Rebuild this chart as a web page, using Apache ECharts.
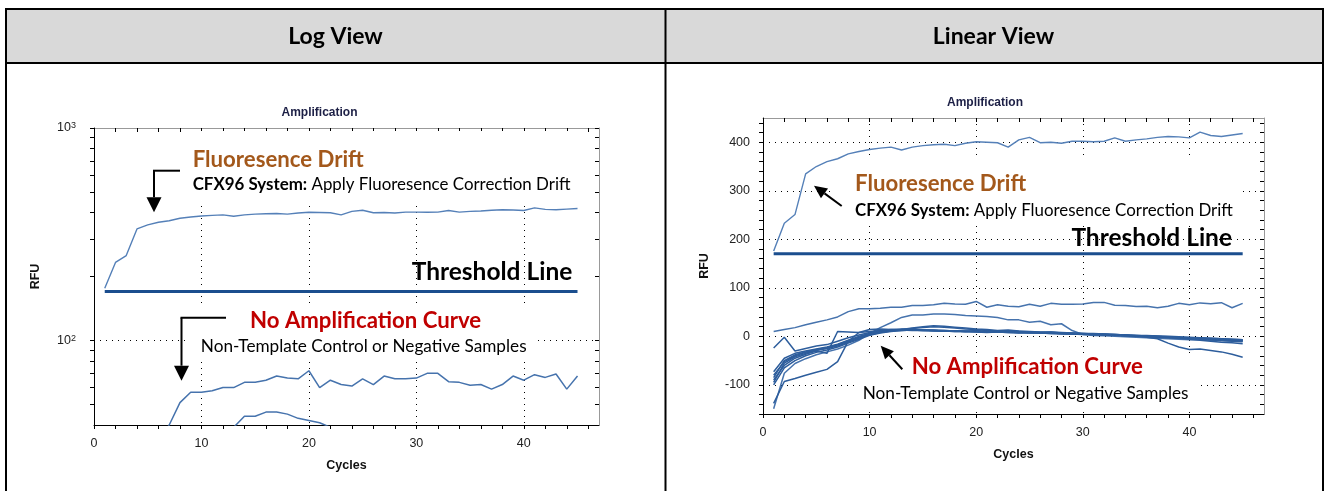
<!DOCTYPE html>
<html>
<head>
<meta charset="UTF-8">
<title>Amplification - Log View / Linear View</title>
<style>
body{margin:0;background:#fff;}
#main{width:1326px;height:491px;}
</style>
</head>
<body>
<div id="main"></div>
<script src="https://cdn.jsdelivr.net/npm/echarts@6/dist/echarts.min.js"></script>
<script>
// cycles 1..45
var cycles = [1,2,3,4,5,6,7,8,9,10,11,12,13,14,15,16,17,18,19,20,21,22,23,24,25,26,27,28,29,30,31,32,33,34,35,36,37,38,39,40,41,42,43,44,45];

// drifting sample (RFU)
var drift = [176,233,251,335,350,360,366,376,381,385,388,390,384,390,393,395,396,393,398,401,400,399,390,405,410,399,400,398,402,402,401,402,409,402,405,407,410,412,411,409,421,414,412,415,418];

// non-template control / negative samples (RFU)
var ntc1 = [10,14,18,24,29,34,40,51,57,57,58,60,60,63.5,63.5,65,68,66.5,66,72,60,65,62,61,66,62,68,66,66,66.5,70,70,64,63.5,61.5,62,59,62,68,65,69,67,69.5,59,68];
var ntc2 = [-149,-76,-56,-46,-38,-32,-26,-18,-8,6,18,28,39,44,44,46,46,45,43,42,41,39,34,34,29,31,24,26,12,4,2,1,0,-1,-2,-3,-4,-5,-6,-7,-7,-8,-8,-9,-10];
var ntc3 = [-24,-2,-30,-25,-20,-17,-10,-3,3,8,12,14,15,14,13,12,12,11,10,12,10,9,11,10,9,8,9,7,6,5,5,4,3,2,1,0,-1,-2,-3,-4,-5,-6,-7,-8,-8];
var ntc4 = [-73,-45,-35,-30,-26,-22,-16,-8,0,6,10,12,13,14,13,12,11,10,10,9,8,9,8,7,8,7,6,5,5,4,4,3,2,1,0,-1,-2,-3,-4,-4,-5,-6,-7,-8,-9];
var ntc5 = [-80,-52,-40,-33,-28,-24,-18,-10,-2,4,9,11,12,13,12,12,11,11,10,10,9,10,9,8,8,7,7,6,5,5,4,3,3,2,1,0,-1,-2,-3,-4,-5,-6,-6,-7,-8];
var ntc6 = [-90,-60,-45,-37,-30,-35,10,9,8,10,12,13,14,16,18,20,19,17,15,14,12,11,10,10,9,8,8,7,7,6,5,5,4,3,2,1,0,-1,-2,-3,-3,-4,-5,-6,-7];
var ntc7 = [-95,-55,-42,-35,-29,-25,-20,-12,-4,3,8,11,14,17,20,22,21,19,17,15,14,12,13,11,10,9,9,8,7,6,6,5,4,3,2,1,0,-2,-4,-6,-8,-10,-12,-13,-15];
var ntc8 = [-138,-93,-87,-80,-74,-68,-52,-10,8,14,15,14,13,12,12,11,11,10,10,10,9,9,8,8,7,7,6,6,5,5,4,4,3,2,1,-2,-5,-14,-22,-27,-26,-29,-32,-37,-43];
var ntc9 = [-85,-50,-38,-32,-27,-23,-17,-9,-1,5,9,12,13,13,12,12,11,11,10,10,10,9,9,9,8,8,7,7,6,6,5,4,4,3,2,2,1,0,-1,-2,-3,-4,-5,-6,-7];
var ntc10 = [-100,-65,-50,-40,-33,-28,-22,-14,-6,2,7,10,12,13,13,13,12,11,11,10,10,9,9,8,8,7,7,6,5,5,4,4,3,2,1,0,-1,-2,-3,-4,-6,-7,-9,-10,-11];

var threshold = 170;

// axis ticks / labels
var xTickVals = [0,2,4,6,8,10,12,14,16,18,20,22,24,26,28,30,32,34,36,38,40,42,44,46];
var xLabelVals = [0,10,20,30,40];
var xGridVals = [10,20,30,40];
var logTickVals = [50,60,70,80,90,100,200,300,400,500,600,700,800,900,1000];
var logLabelVals = [100,1000];
var logGridVals = [100];
var linTickVals = [-160,-140,-120,-100,-80,-60,-40,-20,0,20,40,60,80,100,120,140,160,180,200,220,240,260,280,300,320,340,360,380,400,420,440];
var linLabelVals = [-100,0,100,200,300,400];
var linGridVals = [-100,0,100,200,300,400];

var lowCurves = [ntc1,ntc2,ntc3,ntc4,ntc5,ntc6,ntc7,ntc8,ntc9,ntc10];

var lineColor = '#2d5d9c';
var axisFont = 'Liberation Sans';
var noteFont = 'Lato';

function toPairs(vals, logScale){
    return cycles.map(function(c, i){
        var v = vals[i];
        return [c, (logScale && v <= 0) ? '-' : v];
    });
}

function xAxes(gi){
    var dotted = {color:'#000', width:1, type:[1,5]};
    return [
        {gridIndex:gi, type:'value', position:'bottom', min:0, max:47,
         axisLine:{show:true, onZero:false, lineStyle:{color:'#000'}},
         axisTick:{customValues:xTickVals, length:4, lineStyle:{color:'#000'}},
         axisLabel:{customValues:xLabelVals, margin:12, color:'#222', fontFamily:axisFont, fontSize:12.5},
         splitLine:{show:false},
         name:'Cycles', nameLocation:'middle', nameGap:34,
         nameTextStyle:{fontFamily:axisFont, fontWeight:'bold', fontSize:12.5, color:'#111'}},
        {gridIndex:gi, type:'value', position:'top', min:0, max:47,
         axisLine:{show:true, onZero:false, lineStyle:{color:'#999'}},
         axisTick:{customValues:xTickVals, inside:true, length:4, lineStyle:{color:'#000'}},
         axisLabel:{show:false}, splitLine:{show:false}},
        {gridIndex:gi, type:'value', position:'bottom', min:0, max:47,
         axisLine:{show:false, onZero:false}, axisTick:{show:false, customValues:xGridVals},
         axisLabel:{show:false}, splitLine:{show:true, lineStyle:dotted}}
    ];
}

function yAxes(gi, type, min, max, ticks, labels, grid, fmt, margin){
    var dotted = {color:'#000', width:1, type:[1,5]};
    var lab = {customValues:labels, margin:margin, color:'#222', fontFamily:axisFont, fontSize:12.5};
    if (fmt) {
        lab.formatter = fmt;
        lab.rich = {s:{fontSize:9, fontFamily:axisFont, color:'#222', verticalAlign:'top', lineHeight:9}};
    }
    return [
        {gridIndex:gi, type:type, position:'left', min:min, max:max,
         axisLine:{show:true, onZero:false, lineStyle:{color:'#000'}},
         axisTick:{show:true, customValues:ticks, length:4, lineStyle:{color:'#000'}},
         axisLabel:lab, splitLine:{show:false},
         name:'RFU', nameLocation:'middle', nameGap:52,
         nameTextStyle:{fontFamily:axisFont, fontWeight:'bold', fontSize:12.5, color:'#111'}},
        {gridIndex:gi, type:type, position:'right', min:min, max:max,
         axisLine:{show:true, onZero:false, lineStyle:{color:'#999'}},
         axisTick:{show:true, customValues:ticks, inside:true, length:4, lineStyle:{color:'#000'}},
         axisLabel:{show:false}, splitLine:{show:false}},
        {gridIndex:gi, type:type, position:'left', min:min, max:max,
         axisLine:{show:false, onZero:false}, axisTick:{show:false, customValues:grid},
         axisLabel:{show:false}, splitLine:{show:true, lineStyle:dotted}}
    ];
}

function buildSeries(gi, logScale){
    var list = [];
    var xi = gi * 3, yi = gi * 3;
    list.push({type:'line', xAxisIndex:xi, yAxisIndex:yi, data:toPairs(drift, logScale),
        symbol:'none', lineStyle:{color:'#5580b8', width:1.4}});
    for (var k = 0; k < lowCurves.length; k++) {
        list.push({type:'line', xAxisIndex:xi, yAxisIndex:yi, data:toPairs(lowCurves[k], logScale),
            symbol:'none', lineStyle:{color:k < 2 ? '#4673ad' : lineColor, width:1.5}});
    }
    list.push({type:'line', xAxisIndex:xi, yAxisIndex:yi, data:[[1, threshold],[45, threshold]],
        symbol:'none', lineStyle:{color:'#1b4e8e', width:3}});
    return list;
}

// ---- annotation helpers (overlay drawing, pixel positions) ----
function note(x, y, text, size, color, bold, align){
    return {type:'text', x:x, y:y, z:20, silent:true,
        style:{text:text, fontFamily:noteFont, fontSize:size, fontWeight:bold ? 'bold' : 'normal',
               fill:color, align:align || 'left', verticalAlign:'middle'}};
}
function richNote(x, y, size){
    return {type:'text', x:x, y:y, z:20, silent:true,
        style:{text:'{b|CFX96 System:} Apply Fluoresence Correction Drift',
               fontFamily:noteFont, fontSize:size, fill:'#000', align:'left', verticalAlign:'middle',
               rich:{b:{fontFamily:noteFont, fontSize:size, fontWeight:'bold', fill:'#000'}}}};
}
function whiteBox(x, y, w, h){
    return {type:'rect', z:1, silent:true, shape:{x:x, y:y, width:w, height:h}, style:{fill:'#fff'}};
}
function arrow(x1, y1, x2, y2, headLen, headW){
    var dx = x2 - x1, dy = y2 - y1, len = Math.sqrt(dx*dx + dy*dy);
    var ux = dx/len, uy = dy/len, nx = -uy, ny = ux;
    var bx = x2 - ux*headLen, by = y2 - uy*headLen;
    return [
        {type:'line', z:20, silent:true, shape:{x1:x1, y1:y1, x2:bx, y2:by}, style:{stroke:'#000', lineWidth:2}},
        {type:'polygon', z:20, silent:true,
         shape:{points:[[x2,y2],[bx + nx*headW/2, by + ny*headW/2],[bx - nx*headW/2, by - ny*headW/2]]},
         style:{fill:'#000'}}
    ];
}
function elbowArrow(x0, y0, xc, yTip){
    var els = arrow(xc, y0, xc, yTip, 15, 15);
    els.push({type:'line', z:20, silent:true, shape:{x1:x0, y1:y0, x2:xc - 1, y2:y0}, style:{stroke:'#000', lineWidth:2}});
    return els;
}

var graphics = [];
// table
graphics.push({type:'rect', z:0, silent:true, shape:{x:6, y:9, width:1317, height:54}, style:{fill:'#d9d9d9'}});
graphics.push({type:'line', z:5, silent:true, shape:{x1:5, y1:9, x2:1324, y2:9}, style:{stroke:'#000', lineWidth:2}});
graphics.push({type:'line', z:5, silent:true, shape:{x1:5, y1:63, x2:1324, y2:63}, style:{stroke:'#000', lineWidth:2}});
[6, 665.5, 1323].forEach(function(x){
    graphics.push({type:'line', z:5, silent:true, shape:{x1:x, y1:8, x2:x, y2:491}, style:{stroke:'#000', lineWidth:2}});
});
graphics.push(note(335.5, 37, 'Log View', 23, '#000', true, 'center'));
graphics.push(note(993.5, 37, 'Linear View', 23, '#000', true, 'center'));
// chart titles
graphics.push({type:'text', x:319.5, y:113, z:20, silent:true,
    style:{text:'Amplification', fontFamily:axisFont, fontSize:12, fontWeight:'bold', fill:'#1c1f45', align:'center', verticalAlign:'middle'}});
graphics.push({type:'text', x:985, y:103, z:20, silent:true,
    style:{text:'Amplification', fontFamily:axisFont, fontSize:12, fontWeight:'bold', fill:'#1c1f45', align:'center', verticalAlign:'middle'}});

// log view notes
graphics.push(whiteBox(188, 131, 390, 75));
graphics.push(note(192.7, 160, 'Fluoresence Drift', 22.2, '#a3581b', true));
graphics.push(richNote(192.7, 185, 16.9));
graphics = graphics.concat(elbowArrow(180, 170.7, 154, 212.3));
graphics.push(note(572.3, 271.7, 'Threshold Line', 24.5, '#000', true, 'right'));
graphics.push(whiteBox(186, 308, 348, 52));
graphics.push(note(250, 320.7, 'No Amplification Curve', 22.2, '#c00000', true));
graphics.push(note(200.8, 346, 'Non-Template Control or Negative Samples', 17.2, '#000', false));
graphics = graphics.concat(elbowArrow(226, 317.7, 181.5, 380.7));

// linear view notes
graphics.push(whiteBox(835, 160, 405, 62));
graphics.push(note(855, 184.3, 'Fluoresence Drift', 22.2, '#a3581b', true));
graphics.push(richNote(855, 211, 16.9));
graphics = graphics.concat(arrow(841.7, 206, 814, 185.7, 13, 12));
graphics.push(note(1232, 238.3, 'Threshold Line', 24.5, '#000', true, 'right'));
graphics.push(whiteBox(858, 353, 340, 54));
graphics.push(note(911.7, 367.3, 'No Amplification Curve', 22.2, '#c00000', true));
graphics.push(note(862.7, 393.3, 'Non-Template Control or Negative Samples', 17.2, '#000', false));
graphics = graphics.concat(arrow(902.3, 369.3, 880.7, 345.7, 13, 12));

var myChart = echarts.init(document.getElementById('main'));
var option = {
    animation: false,
    backgroundColor: '#fff',
    grid: [
        {left:94, top:128, right:727, bottom:66, show:false},
        {left:763, top:118, right:62, bottom:77, show:false}
    ],
    xAxis: xAxes(0).concat(xAxes(1)),
    yAxis: yAxes(0, 'log', 40, 1000, logTickVals, logLabelVals, logGridVals, function(v){
                return '10{s|' + Math.round(Math.log(v) / Math.LN10) + '}';
            }, 18)
        .concat(yAxes(1, 'value', -160, 450, linTickVals, linLabelVals, linGridVals, null, 13)),
    series: buildSeries(0, true).concat(buildSeries(1, false)),
    graphic: graphics
};
myChart.setOption(option);
</script>
</body>
</html>
